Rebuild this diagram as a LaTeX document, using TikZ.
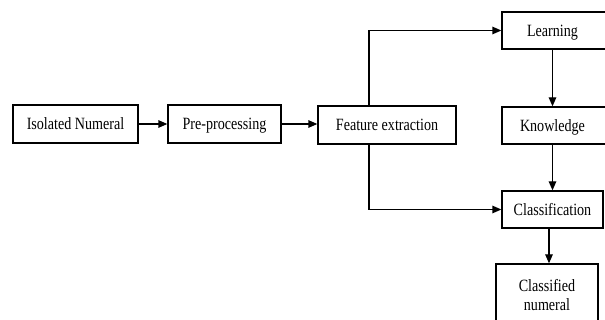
\documentclass[tikz,border=0pt]{standalone}
\usepackage{fontspec}
\setmainfont{Liberation Serif}
\usepackage{graphicx}
\usetikzlibrary{arrows.meta}
% slightly tall lettering
\newcommand{\tall}[1]{\scalebox{1}[1.22]{#1}}
\begin{document}
\begin{tikzpicture}[x=1pt,y=-1pt,
  box/.style={draw, line width=1.3pt, inner sep=0pt, anchor=center,
    font=\fontsize{14.1}{19}\selectfont, align=center},
  one/.style={box, text height=15pt, text depth=3.6pt},
  arr/.style={line width=1.3pt, -{Triangle[length=9pt,width=7.5pt]}}]
  \useasboundingbox (0,0) rectangle (605,320);
  \clip (0,0) rectangle (605,320);
  \fill[white] (0,0) rectangle (605,320);

  % processing chain
  \node[one, minimum width=125pt, minimum height=38pt] (iso) at (75.5,124) {\tall{Isolated Numeral}};
  \node[one, minimum width=113pt, minimum height=38pt] (pre) at (224.5,124) {\tall{Pre-processing}};
  \node[one, minimum width=138pt, minimum height=38pt] (feat) at (387,125) {\tall{Feature extraction}};

  % right column
  \node[one, minimum width=114pt, minimum height=37pt] (learn) at (559,30.5) {\tall{Learning}\hspace{13pt}};
  \node[one, minimum width=114pt, minimum height=37pt] (know) at (559,125.5) {\tall{Knowledge}\hspace{13pt}};
  \node[one, minimum width=101pt, minimum height=37pt] (class) at (552.5,209.5) {\tall{Classification}};
  \node[box, minimum width=102pt, minimum height=62pt] (cnum) at (547,295) {\tall{Classified}\\\tall{numeral}};

  % connectors
  \draw[arr] (iso.east) -- (pre.west |- iso.east);
  \draw[arr] (pre.east) -- (feat.west |- pre.east);
  \draw[arr] ([xshift=-18pt]feat.north) |- (learn.west);
  \draw[arr] ([xshift=-18pt]feat.south) |- (class.west);
  \draw[arr] (learn.south -| class.north) -- (know.north -| class.north);
  \draw[arr] (know.south -| class.north) -- (class.north);
  \draw[arr] ([xshift=-3.5pt]class.south) -- ([xshift=-3.5pt]class.south |- cnum.north);
\end{tikzpicture}
\end{document}
